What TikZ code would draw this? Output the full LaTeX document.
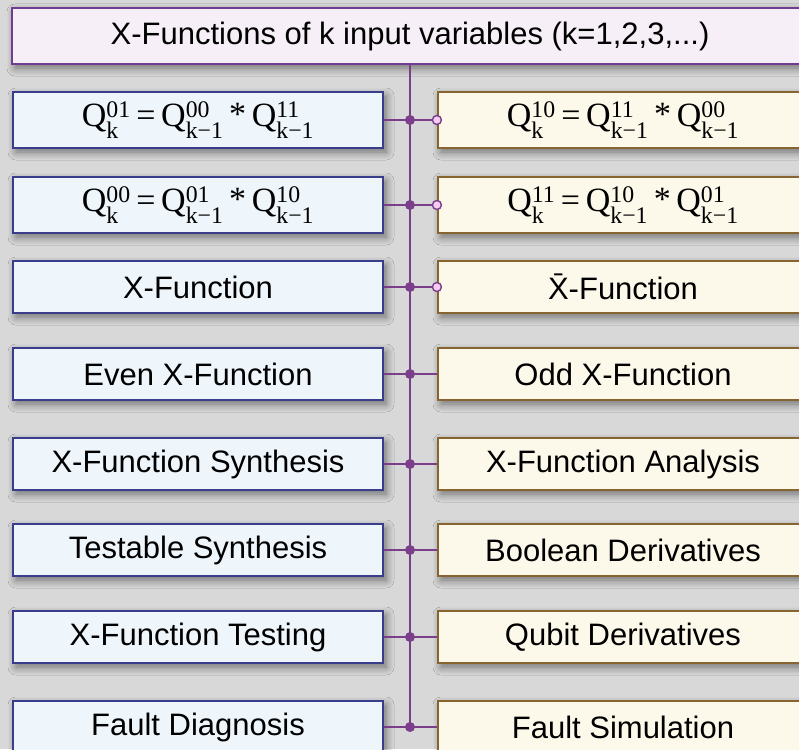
\documentclass[tikz,border=0pt]{standalone}
\usepackage{amsmath}
\usepackage{fontspec}
\setmainfont{Liberation Sans}
\newfontfamily\qfont{Liberation Serif}
\usetikzlibrary{positioning, shadows, shadows.blur}
\definecolor{bggrey}{RGB}{216,216,216}
\definecolor{trunkpurple}{RGB}{122,62,138}
\definecolor{topline}{RGB}{110,60,145}
\definecolor{topfill}{RGB}{247,239,247}
\definecolor{leftline}{RGB}{58,60,140}
\definecolor{leftfill}{RGB}{238,245,251}
\definecolor{rightline}{RGB}{134,101,48}
\definecolor{rightfill}{RGB}{252,249,234}
\definecolor{portfill}{RGB}{246,205,242}
\newcommand{\Qx}[2]{Q\(^{\text{#1}}_{\text{#2}}\)}
\newcommand{\qeq}[6]{{\qfont\fontsize{34}{38}\selectfont\Qx{#1}{#2}\,=\,\Qx{#3}{#4}\,\raisebox{1pt}{*}\,\Qx{#5}{#6}}}

\tikzset{
  shade/.style={blur shadow={shadow blur radius=8pt, shadow xshift=3pt,
      shadow yshift=-4pt, shadow opacity=50, shadow blur steps=8}},
  titlebox/.style={draw=topline, line width=2.6pt, fill=topfill, shade,
      minimum width=796, minimum height=56, inner sep=0pt},
  leftbox/.style={draw=leftline, line width=2.2pt, fill=leftfill, shade,
      minimum width=370, minimum height=52, inner sep=0pt},
  rightbox/.style={draw=rightline, line width=2.2pt, fill=rightfill, shade,
      minimum width=370, minimum height=52, inner sep=0pt},
  tallbox/.style={minimum height=56},
  link/.style={draw=trunkpurple, line width=1.8pt},
  joint/.style={fill=trunkpurple},
  port/.style={draw=trunkpurple, line width=1.4pt, fill=portfill}
}

\begin{document}
\begin{tikzpicture}[x=1pt, y=-1pt, font=\fontsize{31}{36}\selectfont]
\fill[bggrey] (0,0) rectangle (799,749);
\clip (0,0) rectangle (799,749);

% title
\node[titlebox] (top) at (410,36) {X-Functions of k input variables (k=1,2,3,...)};

% left column
\node[leftbox, tallbox] (l1) at (198,120) {\qeq{01}{k}{00}{k−1}{11}{k−1}};
\node[leftbox, tallbox] (l2) at (198,205) {\qeq{00}{k}{01}{k−1}{10}{k−1}};
\node[leftbox] (l3) at (198,287) {X-Function};
\node[leftbox] (l4) at (198,374) {Even X-Function};
\node[leftbox] (l5) at (198,464) {X-Function Synthesis};
\node[leftbox] (l6) at (198,550) {Testable Synthesis};
\node[leftbox] (l7) at (198,637) {X-Function Testing};
\node[leftbox] (l8) at (198,727) {Fault Diagnosis};

% right column
\node[rightbox, tallbox] (r1) at (623,120) {\qeq{10}{k}{11}{k−1}{00}{k−1}};
\node[rightbox, tallbox] (r2) at (623,205) {\qeq{11}{k}{10}{k−1}{01}{k−1}};
\node[rightbox] (r3) at (623,287) {\={X}-Function};
\node[rightbox] (r4) at (623,374) {Odd X-Function};
\node[rightbox] (r5) at (623,464) {X-Function Analysis};
\node[rightbox] (r6) at (623,550) {Boolean Derivatives};
\node[rightbox] (r7) at (623,637) {Qubit Derivatives};
\node[rightbox] (r8) at (623,727) {Fault Simulation};

% trunk and branches
\draw[link] (top.south) -- (top.south |- l8.east);
\draw[link] (l1.east) -- (r1.west);
\draw[link] (l2.east) -- (r2.west);
\draw[link] (l3.east) -- (r3.west);
\draw[link] (l4.east) -- (r4.west);
\draw[link] (l5.east) -- (r5.west);
\draw[link] (l6.east) -- (r6.west);
\draw[link] (l7.east) -- (r7.west);
\draw[link] (l8.east) -- (r8.west);

\fill[joint] (top.south |- l1.east) circle[radius=5];
\fill[joint] (top.south |- l2.east) circle[radius=5];
\fill[joint] (top.south |- l3.east) circle[radius=5];
\fill[joint] (top.south |- l4.east) circle[radius=5];
\fill[joint] (top.south |- l5.east) circle[radius=5];
\fill[joint] (top.south |- l6.east) circle[radius=5];
\fill[joint] (top.south |- l7.east) circle[radius=5];
\fill[joint] (top.south |- l8.east) circle[radius=5];

\draw[port] (r1.west) circle[radius=4.5];
\draw[port] (r2.west) circle[radius=4.5];
\draw[port] (r3.west) circle[radius=4.5];
\end{tikzpicture}
\end{document}
